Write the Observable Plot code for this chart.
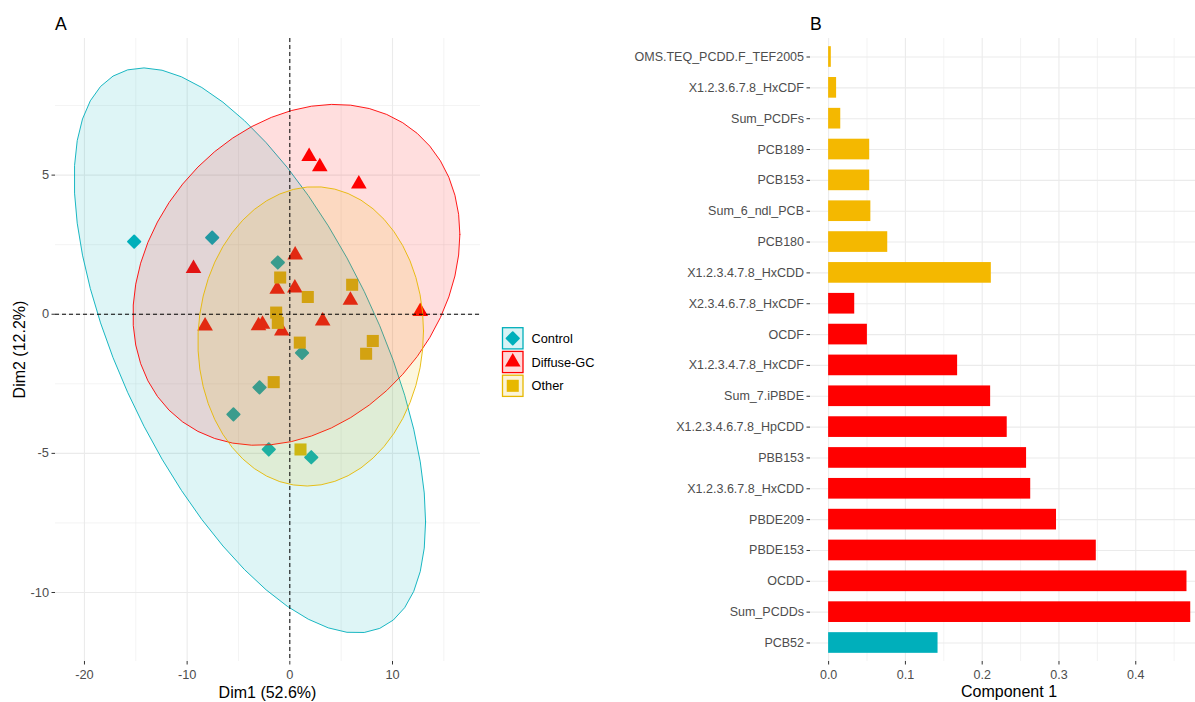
<!DOCTYPE html>
<html>
<head>
<meta charset="utf-8">
<script src="https://cdn.jsdelivr.net/npm/d3@7"></script>
<script src="https://cdn.jsdelivr.net/npm/@observablehq/plot@0.6"></script>
<style>
  html, body { margin: 0; padding: 0; background: #ffffff; overflow: hidden; }
  #root { position: relative; width: 1195px; height: 702px; background: #ffffff; font-family: "Liberation Sans", Arial, sans-serif; }
  #root > svg { position: absolute; top: 0; }
</style>
</head>
<body>
<div id="root"></div>
<script>
// ---------------- Data: panel A (PCA individuals) ----------------
const controlX = [-15.16, -7.56, -1.17, 1.19, -2.95, -5.49, -2.05, 2.09];
const controlY = [2.61, 2.75, 1.86, -1.39, -2.63, -3.60, -4.86, -5.14];

const diffuseX = [1.88, 2.92, 6.72, 0.52, -9.38, -1.23, 0.49, 5.90, 12.70, -8.25, -3.05, -2.66, -0.78, 3.20];
const diffuseY = [5.67, 5.30, 4.68, 2.13, 1.64, 0.90, 0.94, 0.50, 0.10, -0.42, -0.41, -0.36, -0.60, -0.24];

const otherX = [-0.94, 6.07, 1.75, -1.33, -1.17, 0.97, 8.08, 7.43, -1.57, 1.04];
const otherY = [1.32, 1.06, 0.62, 0.06, -0.31, -1.02, -0.96, -1.42, -2.44, -4.86];

const groupNames = ["Control", "Diffuse-GC", "Other"];
const groupColors = ["#00AFBB", "#FF0000", "#E7B800"];

// ---------------- Data: panel B (loadings) ----------------
const barLabels = [
  "OMS.TEQ_PCDD.F_TEF2005", "X1.2.3.6.7.8_HxCDF", "Sum_PCDFs", "PCB189", "PCB153",
  "Sum_6_ndl_PCB", "PCB180", "X1.2.3.4.7.8_HxCDD", "X2.3.4.6.7.8_HxCDF", "OCDF",
  "X1.2.3.4.7.8_HxCDF", "Sum_7.iPBDE", "X1.2.3.4.6.7.8_HpCDD", "PBB153", "X1.2.3.6.7.8_HxCDD",
  "PBDE209", "PBDE153", "OCDD", "Sum_PCDDs", "PCB52"
];
const barValues = [
  0.0035, 0.0104, 0.0158, 0.0535, 0.0535,
  0.0550, 0.0770, 0.2119, 0.0340, 0.0505,
  0.1680, 0.2110, 0.2326, 0.2578, 0.2632,
  0.2968, 0.3486, 0.4667, 0.4716, 0.1425
];
const barGroups = [
  "Other", "Other", "Other", "Other", "Other",
  "Other", "Other", "Other", "Diffuse-GC", "Diffuse-GC",
  "Diffuse-GC", "Diffuse-GC", "Diffuse-GC", "Diffuse-GC", "Diffuse-GC",
  "Diffuse-GC", "Diffuse-GC", "Diffuse-GC", "Diffuse-GC", "Control"
];
const barColors = ["#00AFBB", "#FF0000", "#F4B800"];

// ---------------- helpers ----------------
const pts = (xs, ys) => xs.map((x, i) => ({x, y: ys[i]}));

// normal-theory 95% confidence ellipse (as ggplot2 stat_ellipse type = "norm")
function ellipse(xs, ys, level = 0.95, segments = 51) {
  const n = xs.length;
  const mx = d3.mean(xs), my = d3.mean(ys);
  let sxx = 0, syy = 0, sxy = 0;
  for (let i = 0; i < n; i++) {
    const dx = xs[i] - mx, dy = ys[i] - my;
    sxx += dx * dx; syy += dy * dy; sxy += dx * dy;
  }
  sxx /= n - 1; syy /= n - 1; sxy /= n - 1;
  const d = n - 1;
  const f = (d / 2) * (Math.pow(1 - level, -2 / d) - 1); // qf(level, 2, d)
  const radius = Math.sqrt(2 * f);
  const r11 = Math.sqrt(sxx), r12 = sxy / r11, r22 = Math.sqrt(syy - r12 * r12);
  return d3.range(segments + 1).map(i => {
    const a = i * 2 * Math.PI / segments, c = Math.cos(a), s = Math.sin(a);
    return {x: mx + radius * c * r11, y: my + radius * (c * r12 + s * r22)};
  });
}

const controlPts = pts(controlX, controlY);
const diffusePts = pts(diffuseX, diffuseY);
const otherPts = pts(otherX, otherY);
const ellControl = ellipse(controlX, controlY);
const ellDiffuse = ellipse(diffuseX, diffuseY);
const ellOther = ellipse(otherX, otherY);

const FONT = "'Liberation Sans', Arial, sans-serif";
const GRID = "#EBEBEB";
const FILL_OP = 0.13;
const hyphen = d => String(d);

// ---------------- Panel A ----------------
const plotA = Plot.plot({
  width: 490,
  height: 702,
  marginLeft: 55,
  marginRight: 10,
  marginTop: 38,
  marginBottom: 41,
  style: {fontFamily: FONT, fontSize: "12.8px", background: "transparent", color: "#4D4D4D"},
  x: {domain: [-22.82, 18.57]},
  y: {domain: [-12.48, 9.91]},
  marks: [
    Plot.ruleX([-15, -5, 5, 15], {stroke: GRID, strokeWidth: 0.6}),
    Plot.ruleY([7.5, 2.5, -2.5, -7.5], {stroke: GRID, strokeWidth: 0.6}),
    Plot.ruleX([-20, -10, 0, 10], {stroke: GRID, strokeWidth: 1.1}),
    Plot.ruleY([5, 0, -5, -10], {stroke: GRID, strokeWidth: 1.1}),
    Plot.dot(controlPts, {x: "x", y: "y", symbol: "diamond2", r: 5.6, fill: groupColors[0], stroke: groupColors[0], strokeWidth: 1.8, strokeLinejoin: "round"}),
    Plot.dot(diffusePts, {x: "x", y: "y", symbol: "triangle", r: 5.8, fill: groupColors[1]}),
    Plot.dot(otherPts, {x: "x", y: "y", symbol: "square", r: 6.8, fill: groupColors[2]}),
    Plot.line(ellControl, {x: "x", y: "y", fill: groupColors[0], fillOpacity: FILL_OP, stroke: groupColors[0], strokeWidth: 0.9}),
    Plot.line(ellDiffuse, {x: "x", y: "y", fill: groupColors[1], fillOpacity: FILL_OP, stroke: groupColors[1], strokeWidth: 0.9}),
    Plot.line(ellOther, {x: "x", y: "y", fill: groupColors[2], fillOpacity: FILL_OP, stroke: groupColors[2], strokeWidth: 0.9}),
    Plot.ruleX([0], {stroke: "#000", strokeWidth: 1, strokeDasharray: "4,3"}),
    Plot.ruleY([0], {stroke: "#000", strokeWidth: 1, strokeDasharray: "4,3"}),
    Plot.axisX({ticks: [-20, -10, 0, 10], tickFormat: hyphen, tickSize: 3.5, tickPadding: 5, label: null, stroke: "#333333", fill: "#4D4D4D"}),
    Plot.axisY({ticks: [-10, -5, 0, 5], tickFormat: hyphen, tickSize: 3.5, tickPadding: 3, label: null, stroke: "#333333", fill: "#4D4D4D"})
  ]
});
plotA.style.left = "0px";

// ---------------- Panel B ----------------
const barData = barLabels.map((name, i) => ({name, value: barValues[i], group: barGroups[i]}));

const plotB = Plot.plot({
  width: 595,
  height: 702,
  marginLeft: 210,
  marginRight: 0,
  marginTop: 38,
  marginBottom: 41,
  style: {fontFamily: FONT, fontSize: "12.5px", background: "transparent", color: "#4D4D4D"},
  x: {domain: [-0.0236, 0.4778]},
  y: {domain: barLabels, paddingInner: 0.33, paddingOuter: 0.265, align: 0.5, round: false},
  color: {domain: groupNames, range: barColors},
  marks: [
    Plot.ruleX([0.05, 0.15, 0.25, 0.35, 0.45], {stroke: GRID, strokeWidth: 0.6}),
    Plot.ruleX([0, 0.1, 0.2, 0.3, 0.4], {stroke: GRID, strokeWidth: 1.1}),
    Plot.gridY({stroke: GRID, strokeOpacity: 1, strokeWidth: 1.1}),
    Plot.barX(barData, {x1: 0, x2: "value", y: "name", fill: "group"}),
    Plot.axisX({ticks: [0, 0.1, 0.2, 0.3, 0.4], tickFormat: d3.format(".1f"), tickSize: 3.5, tickPadding: 5, label: null, stroke: "#333333", fill: "#4D4D4D"}),
    Plot.axisY({tickSize: 3.5, tickPadding: 3, label: null, stroke: "#333333", fill: "#4D4D4D"})
  ]
});
plotB.style.left = "600px";

const root = document.getElementById("root");
root.appendChild(plotA);
root.appendChild(plotB);

// ---------------- Overlay: titles, axis titles, legend ----------------
const overlay = d3.create("svg")
  .attr("width", 1195).attr("height", 702)
  .style("position", "absolute").style("left", "0px").style("top", "0px")
  .style("font-family", FONT);

overlay.append("text").attr("x", 55).attr("y", 29.5).attr("font-size", 17.6).attr("fill", "#000").text("A");
overlay.append("text").attr("x", 810).attr("y", 29.5).attr("font-size", 17.6).attr("fill", "#000").text("B");
overlay.append("text").attr("x", 267.5).attr("y", 698).attr("font-size", 16).attr("text-anchor", "middle").attr("fill", "#000").text("Dim1 (52.6%)");
overlay.append("text").attr("transform", "translate(25,349.5) rotate(-90)").attr("font-size", 16).attr("text-anchor", "middle").attr("fill", "#000").text("Dim2 (12.2%)");
overlay.append("text").attr("x", 1009).attr("y", 697).attr("font-size", 16).attr("text-anchor", "middle").attr("fill", "#000").text("Component 1");

const legendRows = [338.3, 362, 385.8];
const legendSymbols = [
  {sym: d3.symbolDiamond2, r: 5.6, stroke: true},
  {sym: d3.symbolTriangle, r: 5.8, stroke: false},
  {sym: d3.symbolSquare, r: 6.8, stroke: false}
];
groupNames.forEach((g, i) => {
  const cy = legendRows[i];
  const col = groupColors[i];
  overlay.append("rect").attr("x", 502.5).attr("y", cy - 10.6).attr("width", 20.5).attr("height", 21.2)
    .attr("fill", col).attr("fill-opacity", 0.15).attr("stroke", col).attr("stroke-width", 1.3);
  const s = legendSymbols[i];
  const p = overlay.append("path")
    .attr("transform", `translate(512.75,${cy})`)
    .attr("d", d3.symbol(s.sym, Math.PI * s.r * s.r)())
    .attr("fill", col);
  if (s.stroke) p.attr("stroke", col).attr("stroke-width", 1.8).attr("stroke-linejoin", "round");
  overlay.append("text").attr("x", 531.5).attr("y", cy + 4.6).attr("font-size", 12.8).attr("fill", "#000").text(g);
});
root.appendChild(overlay.node());
</script>
</body>
</html>
